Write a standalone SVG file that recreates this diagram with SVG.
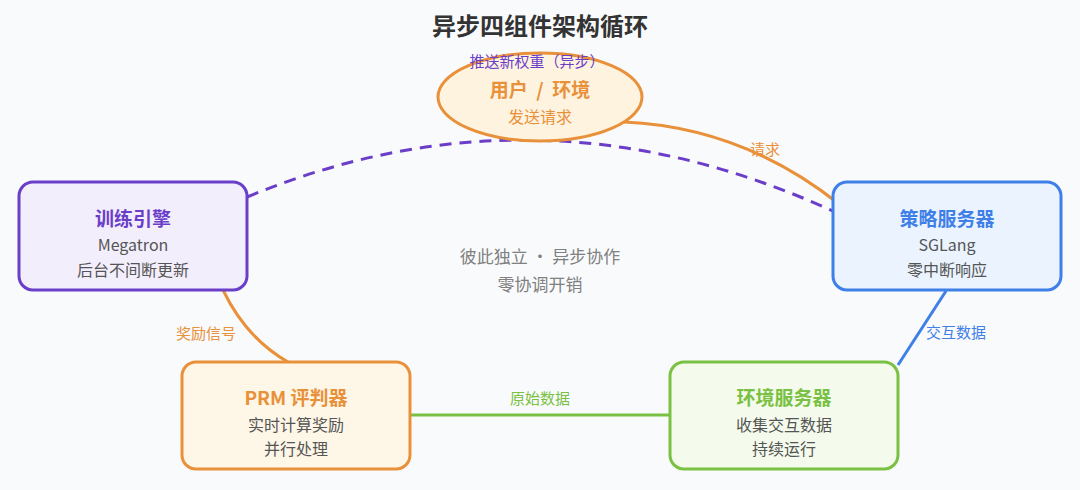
<svg xmlns="http://www.w3.org/2000/svg" width="1080" height="490" viewBox="0 0 1080 490">
<style>
text{font-family:"Noto Sans CJK SC","Liberation Sans",sans-serif;text-anchor:middle;dominant-baseline:central}
.title{font-size:24px;font-weight:bold;fill:#333}
.h{font-size:19px;font-weight:bold}
.t{font-size:16px;fill:#555}
.lbl{font-size:15px}
.box{stroke-width:3}
.conn{fill:none;stroke-width:3}
</style>
<rect width="1080" height="490" fill="#f9fafc"/>
<text class="title" x="540" y="24">异步四组件架构循环</text>

<g id="connectors">
<path class="conn" d="M247,197 Q539,76 835,212" stroke="#6a3ec8" stroke-dasharray="12,8"/>
<path class="conn" d="M624,122 Q742,127 839,204" stroke="#e8913a"/>
<path class="conn" d="M223,290 Q246,338 288,362" stroke="#e8913a"/>
<line class="conn" x1="410" y1="415" x2="670" y2="415" stroke="#7ac143"/>
<line class="conn" x1="946" y1="291" x2="898" y2="365" stroke="#3f7fe8"/>
<text class="lbl" x="765" y="148" fill="#e8913a">请求</text>
<text class="lbl" x="206" y="332" fill="#e8913a">奖励信号</text>
<text class="lbl" x="540" y="397" fill="#7ac143">原始数据</text>
<text class="lbl" x="956" y="331" fill="#3f7fe8">交互数据</text>
</g>

<g id="user-env">
<ellipse class="box" cx="540" cy="97" rx="102" ry="44" fill="#fef3df" stroke="#e8913a"/>
<text class="lbl" x="537" y="60" fill="#6a3ec8">推送新权重（异步）</text>
<text class="h" x="540" y="88" fill="#e8913a" xml:space="preserve">用户  /  环境</text>
<text class="t" x="540" y="116" style="fill:#e8913a">发送请求</text>
</g>

<g id="training-engine">
<rect class="box" x="19" y="182" width="228" height="108" rx="14" fill="#f3eefc" stroke="#6a3ec8"/>
<text class="h" x="133" y="217" fill="#6a3ec8">训练引擎</text>
<text class="t" x="133" y="244">Megatron</text>
<text class="t" x="133" y="269">后台不间断更新</text>
</g>

<g id="policy-server">
<rect class="box" x="833" y="182" width="228" height="108" rx="14" fill="#eaf3fe" stroke="#3f7fe8"/>
<text class="h" x="947" y="217" fill="#3f7fe8">策略服务器</text>
<text class="t" x="947" y="244">SGLang</text>
<text class="t" x="947" y="269">零中断响应</text>
</g>

<g id="prm-judge">
<rect class="box" x="182" y="362" width="228" height="107" rx="14" fill="#fef6e6" stroke="#e8913a"/>
<text class="h" x="296" y="396" fill="#e8913a">PRM 评判器</text>
<text class="t" x="296" y="424">实时计算奖励</text>
<text class="t" x="296" y="448">并行处理</text>
</g>

<g id="env-server">
<rect class="box" x="670" y="362" width="228" height="107" rx="14" fill="#f4fbec" stroke="#7ac143"/>
<text class="h" x="784" y="396" fill="#7ac143">环境服务器</text>
<text class="t" x="784" y="424">收集交互数据</text>
<text class="t" x="784" y="448">持续运行</text>
</g>

<g id="center-note">
<text x="540" y="255" style="font-size:17px;fill:#808080">彼此独立 · 异步协作</text>
<text x="540" y="283" style="font-size:17px;fill:#808080">零协调开销</text>
</g>
</svg>
